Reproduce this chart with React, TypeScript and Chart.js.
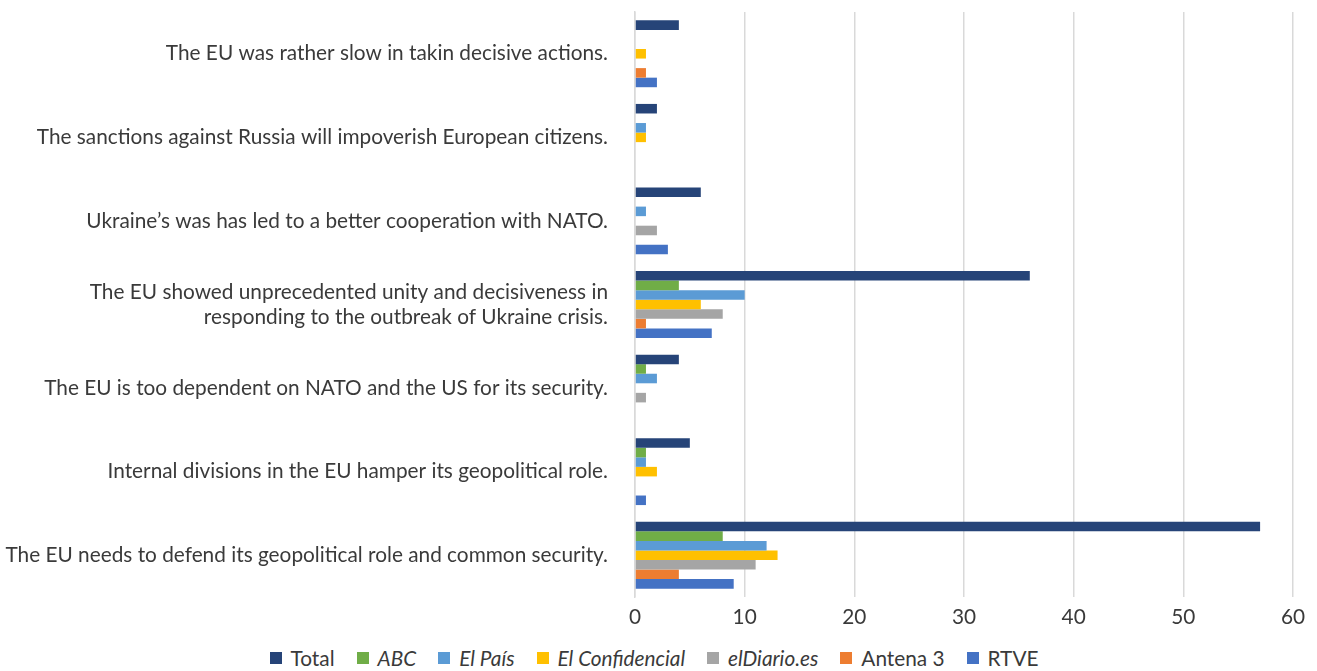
import React, { useEffect, useRef } from "react";
import { Chart, registerables } from "chart.js";

Chart.register(...registerables);

const categories: (string | string[])[] = [
  "The EU was rather slow in takin decisive actions.",
  "The sanctions against Russia will impoverish European citizens.",
  "Ukraine’s was has led to a better cooperation with NATO.",
  ["The EU showed unprecedented unity and decisiveness in", "responding to the outbreak of Ukraine crisis."],
  "The EU is too dependent on NATO and the US for its security.",
  "Internal divisions in the EU hamper its geopolitical role.",
  "The EU needs to defend its geopolitical role and common security.",
];

const seriesNames = ["Total", "ABC", "El País", "El Confidencial", "elDiario.es", "Antena 3", "RTVE"];
const seriesItalic = [false, true, true, true, true, false, false];
const seriesColors = ["#264478", "#70AD47", "#5B9BD5", "#FFC000", "#A5A5A5", "#ED7D31", "#4472C4"];

const totalValues = [4, 2, 6, 36, 4, 5, 57];
const abcValues = [0, 0, 0, 4, 1, 1, 8];
const elPaisValues = [0, 1, 1, 10, 2, 1, 12];
const elConfidencialValues = [1, 1, 0, 6, 0, 2, 13];
const elDiarioValues = [0, 0, 2, 8, 1, 0, 11];
const antena3Values = [1, 0, 0, 1, 0, 0, 4];
const rtveValues = [2, 0, 3, 7, 0, 1, 9];

const seriesValues = [totalValues, abcValues, elPaisValues, elConfidencialValues, elDiarioValues, antena3Values, rtveValues];

const xTicks = [0, 10, 20, 30, 40, 50, 60];

const FONT = "Lato, 'Open Sans', sans-serif";
const FONT_SIZE = 20.8;
const TEXT = "#3a3a3a";

export default function App() {
  const ref = useRef<HTMLCanvasElement | null>(null);

  useEffect(() => {
    if (!ref.current) return;
    const chart = new Chart(ref.current, {
      type: "bar",
      data: {
        labels: categories as any,
        datasets: seriesNames.map((name, i) => ({
          label: name,
          data: seriesValues[i],
          backgroundColor: seriesColors[i],
          borderWidth: 0,
          categoryPercentage: 0.8,
          barPercentage: 1.0,
        })),
      },
      options: {
        indexAxis: "y",
        animation: false,
        responsive: false,
        maintainAspectRatio: false,
        layout: { padding: { top: 12, right: 24, left: 0, bottom: 0 } },
        plugins: {
          legend: { display: false },
          tooltip: { enabled: false },
        },
        scales: {
          x: {
            min: 0,
            max: 60,
            afterBuildTicks: (scale: any) => {
              scale.ticks = xTicks.map((v) => ({ value: v }));
            },
            afterFit: (scale: any) => {
              scale.height = 33;
              scale.paddingLeft = 0;
              scale.paddingRight = 0;
            },
            grid: { color: "#d9d9d9", lineWidth: 1.5, drawTicks: false },
            border: { display: false },
            ticks: { padding: 8, color: TEXT, font: { family: FONT, size: FONT_SIZE } },
          },
          y: {
            afterFit: (scale: any) => {
              scale.width = 635;
              scale.paddingTop = 0;
              scale.paddingBottom = 0;
            },
            grid: { display: false, drawTicks: false },
            border: { display: true, color: "#d9d9d9", width: 1.5 },
            ticks: { padding: 27, color: TEXT, font: { family: FONT, size: FONT_SIZE } },
          },
        },
      },
    });
    return () => chart.destroy();
  }, []);

  return (
    <div style={{ position: "absolute", left: 0, top: 0, width: 1317, height: 671, background: "#fff" }}>
      <canvas ref={ref} width={1317} height={630} style={{ display: "block", width: 1317, height: 630 }} />
      <div
        style={{
          position: "absolute",
          top: 645,
          left: 0,
          width: 1317,
          display: "flex",
          justifyContent: "center",
          fontFamily: FONT,
          fontSize: FONT_SIZE,
          color: TEXT,
          lineHeight: "26px",
        }}
      >
        <div style={{ display: "flex", alignItems: "center", marginLeft: -9 }}>
          {seriesNames.map((name, i) => (
            <div key={name} style={{ display: "flex", alignItems: "center", marginRight: i < seriesNames.length - 1 ? 22 : 0 }}>
              <span style={{ display: "inline-block", width: 12, height: 12, background: seriesColors[i], marginRight: 9 }} />
              <span style={{ fontStyle: seriesItalic[i] ? "italic" : "normal" }}>{name}</span>
            </div>
          ))}
        </div>
      </div>
    </div>
  );
}
